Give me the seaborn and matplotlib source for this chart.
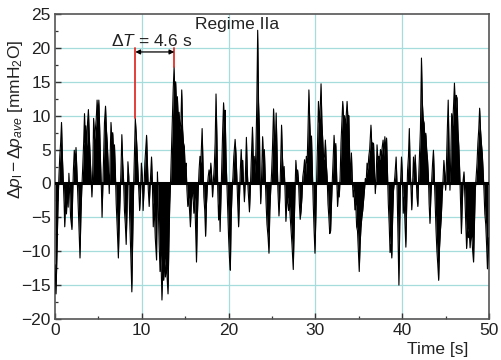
import numpy as np
import matplotlib
matplotlib.use("Agg")
import matplotlib.pyplot as plt
import seaborn as sns

# ---- data (time [s], pressure difference [mmH2O]) ----
t_a = [0.0, 0.12, 0.25, 0.35, 0.45, 0.55, 0.65, 0.75, 0.85, 0.95, 1.05, 1.12, 1.22, 1.32, 1.42, 1.52, 1.6, 1.7, 1.8, 1.95,
       2.05, 2.12, 2.22, 2.32, 2.42, 2.52, 2.62, 2.72, 2.88, 2.98, 3.08, 3.18, 3.3, 3.4, 3.48, 3.55, 3.65, 3.75, 3.85, 3.95,
       4.05, 4.15, 4.25, 4.35, 4.45, 4.55, 4.65, 4.75, 4.85, 4.95, 5.05, 5.15, 5.25, 5.35, 5.42, 5.5, 5.6, 5.7, 5.82, 5.92,
       6.02, 6.12, 6.25, 6.35, 6.45, 6.55, 6.65, 6.75, 6.85, 6.95, 7.05, 7.15, 7.3, 7.4, 7.5, 7.6, 7.7, 7.8, 7.9, 8.0,
       8.1, 8.2, 8.3, 8.4, 8.5, 8.6, 8.72, 8.85, 8.95, 9.05, 9.15, 9.25, 9.35, 9.45, 9.55, 9.65, 9.75, 9.85, 9.95]
v_a = [-12, -16.3, -9, -3, 1, 4, 6, 9.0, 4, 0.5, -3, -6.4, -2, -4.5, -1, -3.5, 1.5, -2, -5, -6.8,
       -1, 2, 4.9, 3, 5.3, 2, -1, -5, -11, -5, -1, 2, 6, 10.3, 6, 8.5, 5.5, 9, 10.9, 7,
       4, 1, -2, 2, 9.6, 6.5, 8, 9.5, 12.3, 10, 12.3, 8, 3, -1, -5, -1, 4, 9, 11.4, 8,
       6, 3, -1.5, 4, 9, 6.5, 7.5, 4.5, 5.7, 2, -3, -6, -11, -6, -2, 2, 7.2, 3, 0.5, -4,
       -6, -9, -4, 3.2, 1, -5, -10, -16, -8, -1, 4, 9.6, 7.5, 5, 2, -1, -4, -1.5, 3]

t_b = [10.05, 10.15, 10.25, 10.35, 10.55, 10.65, 10.75, 10.85, 10.95, 11.05, 11.12, 11.22, 11.32, 11.42, 11.55, 11.7, 11.8,
       11.9, 12.0, 12.1, 12.2, 12.32, 12.42, 12.52, 12.62, 12.72, 12.82, 12.92, 13.02, 13.12, 13.22, 13.32, 13.42, 13.52,
       13.62, 13.72, 13.8, 13.9, 14.0, 14.1, 14.2, 14.3, 14.4, 14.5, 14.6, 14.7, 14.8, 14.9, 15.0, 15.1, 15.2, 15.3, 15.4,
       15.5, 15.6, 15.7, 15.8, 15.9, 16.0, 16.1, 16.2, 16.3, 16.4, 16.5, 16.6, 16.7, 16.8, 16.95, 17.05, 17.15, 17.25,
       17.35, 17.45, 17.55, 17.65, 17.75, 17.85, 17.95, 18.05, 18.15, 18.25, 18.35, 18.45, 18.55, 18.65, 18.75, 18.85,
       18.95, 19.02, 19.12, 19.22, 19.32, 19.42, 19.52, 19.6, 19.7, 19.8, 19.9, 20.0, 20.1, 20.2, 20.3, 20.4]
v_b = [1, -4, -1, 3, 7.1, 3, -1, -3.4, -0.5, 2, 3.9, 0, -6.4, -3, -8, -11.3, 1.7,
       -4, -9, -13, -10.5, -17.2, -12.5, -14.3, -11, -13.8, -12, -14, -16.3, -9, -3, 0.5, 5, 9,
       14, 17.2, 13.5, 15, 11.5, 12.8, 9.5, 10.5, 8, 9, 13.8, 8, 6, 5.4, 2, 3, -1, -3.4, -2,
       -4, -6.4, -3, -1, -2, -4.4, -2, -7, -11.6, -5, -1, 2, 4, 3, 8.1, 3, -2, -4,
       -7.8, -3, -0.5, 1, 2, 0.5, 3, 1, -2, 0.5, 2.5, 6, 13.2, 7, -1, -5.4,
       -3, -7.1, -2, 3, 8, 11.9, 8, 10.8, 4, 0, -4, -8, -11, -12.8, -5, -1]

t_c = [20.5, 20.6, 20.75, 20.85, 20.95, 21.05, 21.15, 21.25, 21.35, 21.45, 21.55, 21.62, 21.72, 21.82, 21.92, 22.05,
       22.15, 22.25, 22.4, 22.5, 22.6, 22.75, 22.85, 22.95, 23.05, 23.15, 23.25, 23.35, 23.45, 23.55, 23.62, 23.7, 23.8,
       23.92, 24.02, 24.12, 24.22, 24.32, 24.42, 24.55, 24.65, 24.75, 24.85, 24.95, 25.05, 25.18, 25.28, 25.38, 25.48,
       25.58, 25.68, 25.8, 25.9, 26.0, 26.1, 26.2, 26.3, 26.4, 26.5, 26.6, 26.7, 26.8, 26.9, 27.0, 27.1, 27.2, 27.3,
       27.45, 27.55, 27.65, 27.75, 27.85, 27.95, 28.05, 28.15, 28.25, 28.35, 28.45, 28.55, 28.65, 28.75, 28.85, 28.95,
       29.05, 29.15, 29.25, 29.35, 29.45, 29.55, 29.65, 29.75, 29.85, 29.95]
v_c = [1, 4, 6.5, 4.4, 1, -3, -6.4, -2, 2, 5, 2, 3.4, 0, -2.7, 0.5, 6.8,
       2, -1, -4.2, -1, 3, 8.3, 3, 4, 1.5, 5, 12, 22.6, 12, 8, 1, -3, 1,
       6.9, 3, 5, 1, -3, -6, -8, -10.3, -4, -1, 1.5, 5, 11.0, 7, 5.5, 10.4,
       5, -1, -4.8, -2, 3, 8.6, 4, 1, 2.5, -1, -5.6, -3, -2, -4, -3, -5, -7, -9,
       -12.7, -7, -1, 3.4, 1, 2, 0.5, -3, -5.3, -4, -2, 1, 2, 3.5, 1, 4,
       3, 8, 13.8, 9, 6, 7, 2, -3, -7, -10.3]

t_d = [30.05, 30.15, 30.25, 30.35, 30.45, 30.55, 30.65, 30.75, 30.85, 30.95, 31.05, 31.15, 31.25, 31.35, 31.45, 31.55,
       31.65, 31.75, 31.85, 31.95, 32.05, 32.15, 32.25, 32.35, 32.45, 32.55, 32.65, 32.75, 32.85, 32.95, 33.05, 33.15,
       33.25, 33.35, 33.45, 33.55, 33.65, 33.75, 33.85, 33.95, 34.05, 34.15, 34.25, 34.35, 34.45, 34.55, 34.65, 34.75,
       34.85, 34.95, 35.05, 35.15, 35.25, 35.35, 35.45, 35.55, 35.65, 35.75, 35.85, 35.95, 36.05, 36.15, 36.25, 36.4,
       36.5, 36.6, 36.7, 36.8, 36.9, 37.0, 37.1, 37.2, 37.3, 37.4, 37.5, 37.6, 37.7, 37.8, 37.9, 38.0, 38.1, 38.2, 38.3,
       38.4, 38.5, 38.6, 38.7, 38.8, 38.9, 39.0, 39.15, 39.3, 39.4, 39.5, 39.62, 39.72, 39.82, 39.92]
v_d = [-5, 1, 6, 12.1, 9, 11, 14.7, 9, 6.4, 3.5, 4, 6.4, 3, 1, -3, -5,
       -7.4, -7, -3, 0.5, 4, 7.1, 4.5, 5.9, 1, -3.4, -1, -2, 1, 6, 9, 12.1,
       9.4, 10, 8.5, 10, 12.1, 9.5, 10, 4, 0.5, 4.5, 0.5, -2, -1, -3.9, -3, -6.4,
       -7, -10, -13, -9, -6.5, -5, -4, -2.5, -1, 0.7, 0.3, 3, 2, 4, 5, 8.6,
       5.5, 6, 5.9, 2, -1.5, 1, 5.7, 3.5, 4, 3.5, 5, 4, 5.4, 6.4, 4, 6.9, 4.5, 6.7, 2,
       -3, -6, -10.2, -9, -11, -5, -1, 1, 3.9, 0, -7, -15, -6, 0.5, 3.9]

t_e = [40.02, 40.12, 40.22, 40.32, 40.42, 40.52, 40.62, 40.72, 40.82, 40.92, 41.02, 41.1, 41.2, 41.3, 41.4, 41.5, 41.6,
       41.7, 41.8, 41.9, 42.0, 42.1, 42.22, 42.32, 42.42, 42.52, 42.62, 42.72, 42.82, 42.92, 43.02, 43.1, 43.2, 43.3,
       43.4, 43.5, 43.6, 43.7, 43.8, 43.9, 44.0, 44.1, 44.2, 44.3, 44.4, 44.5, 44.6, 44.7, 44.8, 44.9, 45.0, 45.1, 45.2,
       45.3, 45.4, 45.5, 45.6, 45.7, 45.8, 45.9, 46.02, 46.12, 46.22, 46.32, 46.42, 46.52, 46.62, 46.72, 46.82, 46.92,
       47.02, 47.12, 47.22, 47.32, 47.42, 47.52, 47.62, 47.72, 47.82, 47.92, 48.02, 48.12, 48.22, 48.32, 48.42, 48.52,
       48.62, 48.72, 48.82, 48.92, 49.02, 49.12, 49.22, 49.32, 49.42, 49.52, 49.62, 49.72, 49.82, 49.92, 50.0]
v_e = [1, -4.4, -2, -6, -9.4, -3, 2, 4, 8.1, 2, -1, -3.9, 0, 3.9, 1, 4.2, 1,
       -2, -3.4, 1, 4.7, 8, 18.5, 12, 9.5, 8.9, 6.5, 7.4, 5, 3.5, 1, -3, -5.9, -2,
       0.5, 3, 4.9, 1, -3, -7, -10, -12, -14.3, -9.5, -7, -5, -2, 0.5, 3.4, 1.5, -1, 3, 8,
       12.3, 5, -1, 4, 10.3, 8.5, 11, 14.8, 10.5, 13, 12.6, 8, 5.5, 2, -3, -7.4, -3,
       0.5, 1.7, -2, -6, -9.6, -6.5, -8, -7, -9.5, -7.5, -8, -10, -11.6, -6, -1, 1,
       3, 6, 8, 11.1, 8, 6, 4.5, 2, -1, -4.5, -6, -9, -12.6, -10, -8]

time_s = np.array(t_a + t_b + t_c + t_d + t_e)
dp = np.array(v_a + v_b + v_c + v_d + v_e)

x_ticks = [0, 10, 20, 30, 40, 50]
y_ticks = [-20, -15, -10, -5, 0, 5, 10, 15, 20, 25]
delta_t_start, delta_t_end = 9.25, 13.75
delta_t_low_start, delta_t_low_end = 9.6, 17.2

# ---- style ----
sns.set_theme(style="white")
plt.rcParams['font.family'] = ['Liberation Sans', 'DejaVu Sans']
plt.rcParams['mathtext.fontset'] = 'custom'
plt.rcParams['mathtext.rm'] = 'Liberation Sans'
plt.rcParams['mathtext.it'] = 'Liberation Sans:italic'
plt.rcParams['mathtext.bf'] = 'Liberation Sans:bold'

FS = 12.5
TXT = '#222222'

fig = plt.figure(figsize=(5.02, 3.60), dpi=100)
ax = fig.add_axes([55/502, 41/360, 434/502, 305/360])

grid_c = '#a6dcdc'
for xv in x_ticks[1:-1]:
    ax.axvline(xv, color=grid_c, lw=0.9, zorder=0)
for yv in y_ticks[1:-1]:
    ax.axhline(yv, color=grid_c, lw=0.9, zorder=0)

ax.fill_between(time_s, 0, dp, color='black', lw=0, zorder=2)
sns.lineplot(x=time_s, y=dp, color='black', lw=0.8, ax=ax, zorder=3, sort=False)
ax.axhline(0, color='black', lw=2.2, zorder=3)

# annotation
red = '#e2302a'
ax.plot([delta_t_start, delta_t_start], [delta_t_low_start, 20], color=red, lw=1.3, zorder=4)
ax.plot([delta_t_end, delta_t_end], [delta_t_low_end, 20], color=red, lw=1.3, zorder=4)
ax.annotate('', xy=(delta_t_start, 19.4), xytext=(delta_t_end, 19.4),
            arrowprops=dict(arrowstyle='<|-|>', color='black', lw=0.9, mutation_scale=7,
                            shrinkA=0, shrinkB=0), zorder=5)
ax.text(11.1, 19.8, r'$\Delta T$ = 4.6 s', ha='center', va='bottom', fontsize=FS, color=TXT, zorder=5)
ax.text(20.95, 23.4, 'Regime IIa', ha='center', va='center', fontsize=FS, color=TXT, zorder=5)

ax.set_xlim(0, 50)
ax.set_ylim(-20, 25)
ax.set_xticks(x_ticks)
ax.set_yticks(y_ticks)
ax.set_xticks([5, 15, 25, 35, 45], minor=True)
ax.set_yticks(np.arange(-17.5, 25, 5), minor=True)
ax.tick_params(axis='both', which='major', direction='in', length=4, width=1, labelsize=FS,
               colors='#333333', labelcolor=TXT, pad=3)
ax.tick_params(axis='both', which='minor', direction='in', length=2.5, width=0.9, colors='#333333')
ax.tick_params(left=True, bottom=True, which='both')
ax.set_yticklabels([str(v).replace('-', '\u2212') for v in y_ticks])

for s in ax.spines.values():
    s.set_color('#555555')
    s.set_linewidth(1.2)

ax.set_ylabel(r'$\Delta p_\mathrm{l} - \Delta p_\mathit{ave}$ [mmH$_2$O]', fontsize=FS, color=TXT)
ax.yaxis.set_label_coords(-0.068, 0.655)
ax.set_xlabel('Time [s]', fontsize=FS, color=TXT, loc='right')
ax.xaxis.set_label_coords(0.952, -0.075)
ax.xaxis.label.set_va('top')

fig.savefig('out.png', dpi=100)
